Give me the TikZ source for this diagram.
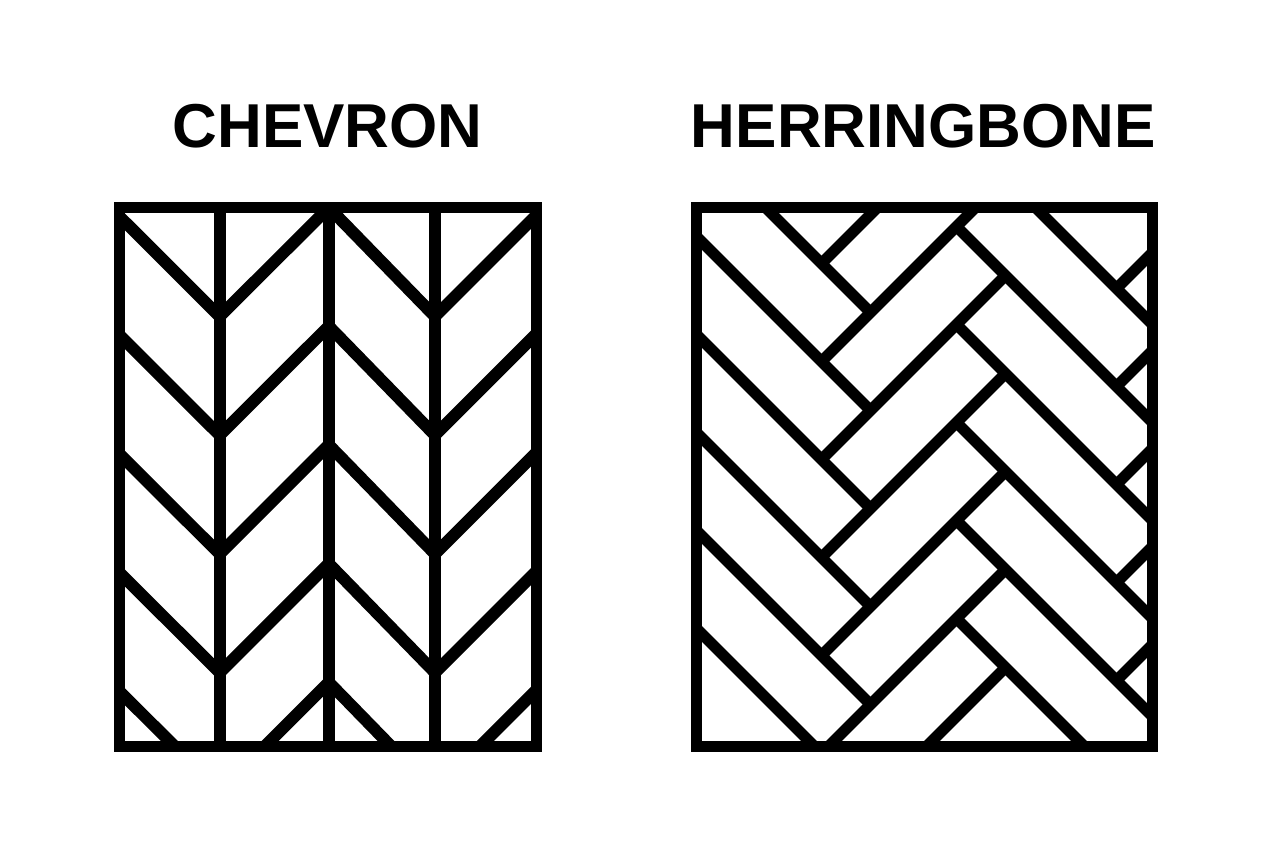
\documentclass[tikz,border=0pt]{standalone}
\usepackage{fontspec}
\setmainfont{Liberation Sans}

\tikzset{
  board/.style={line width=11, color=black},
  slat/.style={line width=12, color=black},
  plank/.style={line width=11, color=black},
  title/.style={font=\fontsize{62}{62}\selectfont\bfseries, anchor=base, inner sep=0pt}
}

\begin{document}
\begin{tikzpicture}[x=1pt, y=-1pt]

 \fill [white] (0,0) rectangle (1280,853) ;
 \useasboundingbox (0,0) rectangle (1280,853) ;

 %%%%%%%%%% Points pour travailler %%%%%%%%%%
 \coordinate (c0) at (119.5,207.5);
 \coordinate (c1) at (536.7,746.7);
 \coordinate (h0) at (696.2,207.5);
 \coordinate (h1) at (1152.8,746.7);

 %%%%%%%%%% Titles %%%%%%%%%%
 \node [title] (chevron) at (327.5,148) {CHEVRON};
 \node [title] (herring) at (923.5,148) {HERRINGBONE};

 %%%%%%%%%% Chevron : diagonal rows %%%%%%%%%%
 \begin{scope}
  \clip (c0) rectangle (c1) ;
  \foreach \k in {0,...,4}
  {
   \pgfmathsetmacro{\yv}{316.5+118.7*\k}
   \draw [slat] (119.5,\yv-100) -- (219.7,\yv) -- (328.8,\yv-109) -- (435,\yv) -- (536.7,\yv-101.7) ;
  }
 \end{scope}

 % Chevron : vertical joints
 \draw [slat] (219.7,207.5) -- (219.7,746.7) ;
 \draw [slat] (328.8,207.5) -- (328.8,746.7) ;
 \draw [slat] (435,207.5) -- (435,746.7) ;

 \draw [board] (c0) rectangle (c1) ;

 %%%%%%%%%% Herringbone : planks %%%%%%%%%%
 \begin{scope}
  \clip (h0) rectangle (h1) ;
  \foreach \k in {0,...,5}
  {
   \draw [plank] (870.5,312.5+98*\k) -- ++(-320,-320) ;
   \draw [plank] (956.5,128.5+98*\k) -- ++(320,320) ;
  }
  \foreach \k in {-1,...,5}
  {
   \draw [plank] (1005.5,177.5+98*\k) -- (821.5,361.5+98*\k) ;
  }
  \foreach \k in {-1,...,3}
  {
   \draw [plank] (1116.5,386.5+98*\k) -- ++(80,-80) ;
  }
 \end{scope}

 \draw [board] (h0) rectangle (h1) ;

\end{tikzpicture}
\end{document}
